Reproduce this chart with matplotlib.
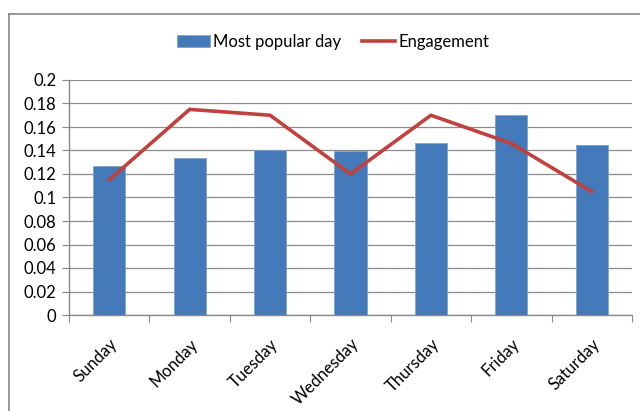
import matplotlib
matplotlib.use("Agg")
import matplotlib.pyplot as plt
import numpy as np

days = ["Sunday", "Monday", "Tuesday", "Wednesday", "Thursday", "Friday", "Saturday"]
popular = [0.127, 0.134, 0.140, 0.1395, 0.146, 0.170, 0.1445]
engagement = [0.115, 0.175, 0.170, 0.120, 0.170, 0.146, 0.105]
yticks = [0, 0.02, 0.04, 0.06, 0.08, 0.1, 0.12, 0.14, 0.16, 0.18, 0.2]
ylabels = ["0", "0.02", "0.04", "0.06", "0.08", "0.1", "0.12", "0.14", "0.16", "0.18", "0.2"]

plt.rcParams['font.family'] = ['Lato', 'DejaVu Sans']

fig = plt.figure(figsize=(6.4, 4.11), dpi=100)
ax = fig.add_axes([69 / 640, 1 - 315 / 411, (632 - 69) / 640, (315 - 80) / 411])

# chart frame (cut off at right and bottom like the screenshot)
fig.add_artist(plt.Line2D([9 / 640, 9 / 640], [0, 1 - 14 / 411], color="#888888", lw=1.2))
fig.add_artist(plt.Line2D([9 / 640, 1], [1 - 14 / 411, 1 - 14 / 411], color="#888888", lw=1.2))

x = np.arange(len(days))
bars = ax.bar(x, popular, width=0.4, color="#4479BA", edgecolor="#7FA3D3", lw=0.6,
              label="Most popular day", zorder=2)
line, = ax.plot(x, engagement, color="#C0413D", lw=2.6, label="Engagement", zorder=3)

ax.set_xlim(-0.5, len(days) - 0.5)
ax.set_ylim(0, 0.2)
ax.set_yticks(yticks)
ax.set_yticklabels(ylabels, fontsize=12)
ax.yaxis.grid(True, color="#8c8c8c", lw=0.9, zorder=0)
ax.set_axisbelow(True)

ax.set_xticks(np.arange(-0.5, len(days)), minor=False)
ax.set_xticklabels([])
ax.set_xticks(x, minor=True)
ax.set_xticklabels(days, minor=True, rotation=45, ha="right", va="top",
                   rotation_mode="anchor", fontsize=12)
ax.tick_params(axis="x", which="major", length=5, color="#888888")
ax.tick_params(axis="x", which="minor", length=0, pad=15)
ax.tick_params(axis="y", length=5, color="#888888", pad=4)

for s in ["top", "right"]:
    ax.spines[s].set_visible(False)
for s in ["left", "bottom"]:
    ax.spines[s].set_color("#888888")
    ax.spines[s].set_linewidth(1.0)

fig.legend([bars, line], ["Most popular day", "Engagement"], loc="center",
           bbox_to_anchor=(333 / 640, 1 - 42 / 411), ncol=2, frameon=False,
           fontsize=12, handlelength=2.0, handletextpad=0.2, columnspacing=1.2)

fig.savefig("out.png", dpi=100)
